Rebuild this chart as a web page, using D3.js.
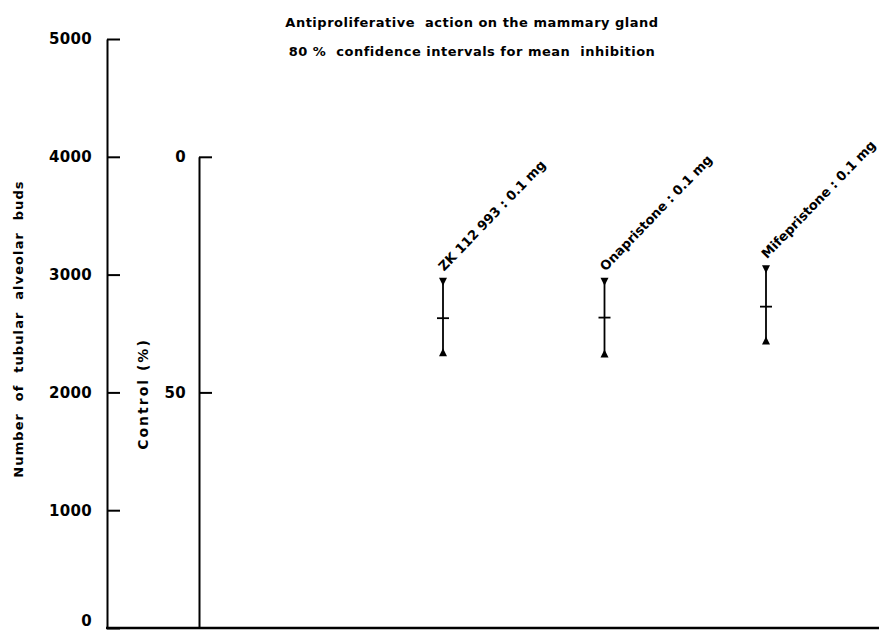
<!doctype html>
<html>
    <head>
        <title>Antiproliferative action</title>
        <script src="https://d3js.org/d3.v7.min.js"></script>
        <style>
            body { margin: 0; background: #fff; }
            text { font-family: "DejaVu Sans", sans-serif; font-weight: bold; fill: #000; }
        </style>
    </head>
    <body>
        <div id="my_dataviz"></div>

        <script>
            // data (number of tubular alveolar buds)
            var groups = ["ZK 112 993 : 0.1 mg", "Onapristone : 0.1 mg", "Mifepristone : 0.1 mg"]
            var upper = [2940, 2940, 3045]
            var means = [2630, 2635, 2728]
            var lower = [2340, 2330, 2440]

            var budTicks = [0, 1000, 2000, 3000, 4000, 5000]
            var controlTicks = [0, 50]
            var titleLines = ["Antiproliferative  action on the mammary gland",
                              "80 %  confidence intervals for mean  inhibition"]

            var width = 879, height = 632

            var svg = d3.select("#my_dataviz")
                .append("svg")
                    .attr("width", width)
                    .attr("height", height)

            // left axis: number of buds
            var y = d3.scaleLinear()
                .domain([0, 5000])
                .range([628, 39]);

            // second axis: control (%), 0 at the 4000 level, 100 at the bottom
            var yc = d3.scaleLinear()
                .domain([0, 100])
                .range([y(4000), y(0)]);

            var x = d3.scalePoint()
                .domain(groups)
                .range([443, 766]);

            var yAxis = svg.append("g")
                .attr("transform", "translate(107,0)")
                .call(d3.axisLeft(y).tickValues(budTicks).tickFormat(d3.format("d"))
                    .tickSize(-13).tickSizeOuter(0).tickPadding(15))

            var cAxis = svg.append("g")
                .attr("transform", "translate(199,0)")
                .call(d3.axisLeft(yc).tickValues(controlTicks).tickFormat(d3.format("d"))
                    .tickSize(-13).tickSizeOuter(0).tickPadding(13))

            svg.selectAll(".tick line, .domain")
                .attr("stroke", "#000")
                .attr("stroke-width", 2)
            svg.selectAll(".tick text")
                .attr("font-family", null)
                .attr("font-size", null)
                .style("font-size", "15px")
                .attr("letter-spacing", 0.3)

            // keep the bottom "0" inside the window
            yAxis.selectAll(".tick text")
                .filter(function(d) { return d === 0; })
                .attr("dy", "-0.15em")

            // baseline
            svg.append("line")
                .attr("x1", 106)
                .attr("x2", width)
                .attr("y1", y(0))
                .attr("y2", y(0))
                .attr("stroke", "#000")
                .attr("stroke-width", 2.5)

            // axis titles
            svg.append("text")
                .attr("text-anchor", "middle")
                .attr("transform", "translate(23," + 329 + ") rotate(-90)")
                .style("font-size", "13px")
                .attr("letter-spacing", 1.1)
                .attr("word-spacing", 6)
                .text("Number of tubular alveolar buds");

            svg.append("text")
                .attr("text-anchor", "middle")
                .attr("transform", "translate(148," + 394 + ") rotate(-90)")
                .style("font-size", "14px")
                .attr("letter-spacing", 2)
                .text("Control (%)");

            // title
            svg.selectAll(".title")
                .data(titleLines)
                .enter()
                .append("text")
                    .attr("class", "title")
                    .attr("text-anchor", "middle")
                    .attr("x", 472)
                    .attr("y", function(d, i) { return 27 + i * 29; })
                    .style("font-size", "13px")
                    .attr("letter-spacing", 0.5)
                    .attr("xml:space", "preserve")
                    .text(function(d) { return d; });

            // confidence intervals
            var bars = svg.selectAll(".ci")
                .data(groups)
                .enter()
                .append("g")
                    .attr("class", "ci")

            bars.append("line")
                .attr("x1", function(d) { return x(d); })
                .attr("x2", function(d) { return x(d); })
                .attr("y1", function(d, i) { return y(upper[i]); })
                .attr("y2", function(d, i) { return y(lower[i]); })
                .attr("stroke", "#000")
                .attr("stroke-width", 1.8)

            bars.append("line")
                .attr("x1", function(d) { return x(d) - 6; })
                .attr("x2", function(d) { return x(d) + 6; })
                .attr("y1", function(d, i) { return y(means[i]); })
                .attr("y2", function(d, i) { return y(means[i]); })
                .attr("stroke", "#000")
                .attr("stroke-width", 1.8)

            // down triangle at the upper limit, up triangle at the lower limit
            bars.append("path")
                .attr("d", function(d, i) {
                    var cx = x(d), cy = y(upper[i]);
                    return "M" + (cx - 4) + "," + (cy - 4) + "L" + (cx + 4) + "," + (cy - 4) + "L" + cx + "," + (cy + 4) + "Z";
                })
                .attr("fill", "#000")

            bars.append("path")
                .attr("d", function(d, i) {
                    var cx = x(d), cy = y(lower[i]);
                    return "M" + (cx - 4) + "," + (cy + 4) + "L" + (cx + 4) + "," + (cy + 4) + "L" + cx + "," + (cy - 4) + "Z";
                })
                .attr("fill", "#000")

            // rotated group labels
            bars.append("text")
                .attr("transform", function(d, i) {
                    return "translate(" + (x(d) + 1) + "," + (y(upper[i]) - 10) + ") rotate(-46)";
                })
                .style("font-size", "13px")
                .text(function(d) { return d; });
        </script>
    </body>
</html>
